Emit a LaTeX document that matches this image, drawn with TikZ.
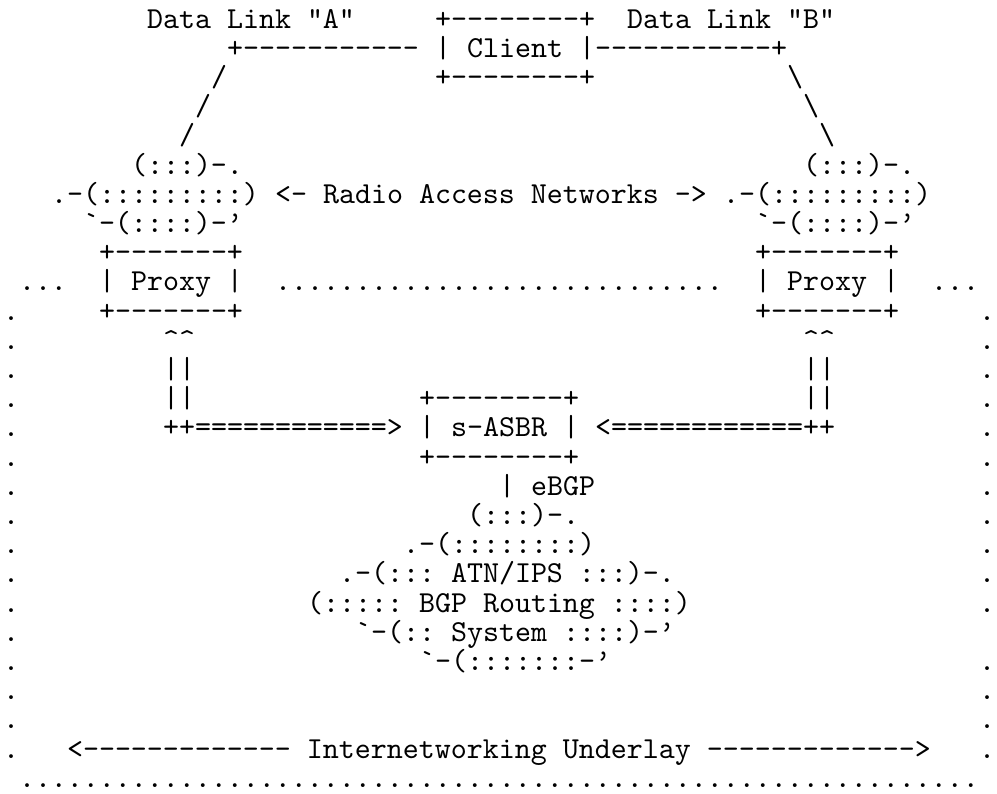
\documentclass[tikz,border=0pt]{standalone}
\usepackage{fontspec}
\newfontfamily\asciifont{lmmono10-regular}[Extension=.otf]
\frenchspacing
\tikzset{
  ascii/.style={anchor=base west, inner sep=0pt, outer sep=0pt,
    font=\asciifont\fontsize{22.857pt}{21.9pt}\selectfont, text=black},
}
% one run of characters, placed by its first column and its row
\newcommand\asciiseg[4]{\node[ascii] (#1) at ({#2+0.1875},{#3-0.04}) {#4};}
\newcommand\cq{\textquoteright}

\begin{document}
\begin{tikzpicture}[x=12pt,y=-21.9pt]
\useasboundingbox (0,0) rectangle (62.3125,27.19);

% client and the two data links
\asciiseg{linkAlbl}{9}{1}{Data Link "A"}
\asciiseg{clienttop}{27}{1}{+--------+}
\asciiseg{linkBlbl}{39}{1}{Data Link "B"}
\asciiseg{linkAtop}{14}{2}{+-----------}
\asciiseg{client}{27}{2}{| Client |}
\asciiseg{linkBtop}{37}{2}{-----------+}
\asciiseg{linkAa}{13}{3}{/}
\asciiseg{clientbot}{27}{3}{+--------+}
\asciiseg{linkBa}{49}{3}{\textbackslash}
\asciiseg{linkAb}{12}{4}{/}
\asciiseg{linkBb}{50}{4}{\textbackslash}
\asciiseg{linkAc}{11}{5}{/}
\asciiseg{linkBc}{51}{5}{\textbackslash}

% radio access network clouds
\asciiseg{ranAa}{8}{6}{(:::)-.}
\asciiseg{ranBa}{50}{6}{(:::)-.}
\asciiseg{ranAb}{3}{7}{.-(:::::::::)}
\asciiseg{ranlbl}{17}{7}{<- Radio Access Networks ->}
\asciiseg{ranBb}{45}{7}{.-(:::::::::)}
\asciiseg{ranAc}{5}{8}{`-(::::)-\cq}
\asciiseg{ranBc}{47}{8}{`-(::::)-\cq}

% proxies
\asciiseg{proxyAtop}{6}{9}{+-------+}
\asciiseg{proxyBtop}{47}{9}{+-------+}
\asciiseg{dotsL}{1}{10}{...}
\asciiseg{proxyA}{6}{10}{| Proxy |}
\asciiseg{dotsM}{17}{10}{............................}
\asciiseg{proxyB}{47}{10}{| Proxy |}
\asciiseg{dotsR}{58}{10}{...}
\asciiseg{proxyAbot}{6}{11}{+-------+}
\asciiseg{proxyBbot}{47}{11}{+-------+}

% double links from the s-ASBR up to the proxies
\asciiseg{upA}{10}{12}{\textasciicircum\textasciicircum}
\asciiseg{upB}{50}{12}{\textasciicircum\textasciicircum}
\asciiseg{barAa}{10}{13}{||}
\asciiseg{barBa}{50}{13}{||}
\asciiseg{barAb}{10}{14}{||}
\asciiseg{asbrtop}{26}{14}{+--------+}
\asciiseg{barBb}{50}{14}{||}
\asciiseg{arrA}{10}{15}{++============>}
\asciiseg{asbr}{26}{15}{| s-ASBR |}
\asciiseg{arrB}{37}{15}{<============++}
\asciiseg{asbrbot}{26}{16}{+--------+}
\asciiseg{ebgp}{31}{17}{| eBGP}

% ATN/IPS BGP routing system cloud
\asciiseg{bgpa}{29}{18}{(:::)-.}
\asciiseg{bgpb}{25}{19}{.-(::::::::)}
\asciiseg{bgpc}{21}{20}{.-(::: ATN/IPS :::)-.}
\asciiseg{bgpd}{19}{21}{(::::: BGP Routing ::::)}
\asciiseg{bgpe}{22}{22}{`-(:: System ::::)-\cq}
\asciiseg{bgpf}{26}{23}{`-(:::::::-\cq}

% internetworking underlay
\asciiseg{underlay}{4}{26}{<------------- Internetworking Underlay ------------->}
\asciiseg{dotsB}{1}{27}{............................................................}

% dotted sides of the underlay
\foreach \r in {11,...,26} {\asciiseg{sideL\r}{0}{\r}{.}}
\foreach \r in {11,...,21,23,24,25,26} {\asciiseg{sideR\r}{61}{\r}{.}}
\end{tikzpicture}
\end{document}
